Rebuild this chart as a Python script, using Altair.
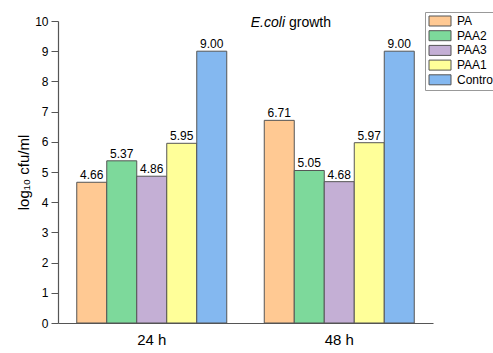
import altair as alt
import pandas as pd

# Sampling times and treatments
times = ["24 h", "48 h"]
treatments = ["PA", "PAA2", "PAA3", "PAA1", "Contro"]
colors = ["#FFC993", "#7DD99B", "#C4AFD5", "#FFFF99", "#84B8F0"]

# log10 cfu/ml per treatment at each time
values_24h = [4.66, 5.37, 4.86, 5.95, 9.00]
values_48h = [6.71, 5.05, 4.68, 5.97, 9.00]

rows = []
for t, vals in zip(times, [values_24h, values_48h]):
    for tr, v in zip(treatments, vals):
        rows.append({"time": t, "treatment": tr, "value": v})
df = pd.DataFrame(rows)

FONT = "Liberation Sans"
y_ticks = [i / 2 for i in range(21)]

x_axis = alt.Axis(
    title=None, labelAngle=0, labelFontSize=15, labelFont=FONT,
    labelColor="black", labelPadding=9, ticks=False,
    domainColor="#555555", domainWidth=1.2,
)
y_axis = alt.Axis(
    title="log₁₀ cfu/ml", titleFont=FONT, titleFontSize=15,
    titleFontWeight="normal", titleColor="black", titlePadding=3,
    values=y_ticks, format="d",
    labelExpr="datum.value % 1 === 0 ? datum.label : ''",
    labelOverlap=False,
    labelFont=FONT, labelFontSize=12, labelColor="black",
    tickSize=alt.ExprRef("datum.value % 1 === 0 ? 7 : 4"),
    tickColor="#555555", domainColor="#555555", domainWidth=1.2,
    grid=False, labelPadding=3,
)
x_scale = alt.Scale(paddingInner=0.2, paddingOuter=0.1)
y_scale = alt.Scale(domain=[0, 10], nice=False)

x_enc = alt.X("time:N", sort=times, scale=x_scale, axis=x_axis)
y_enc = alt.Y("value:Q", scale=y_scale, axis=y_axis)
xoff = alt.XOffset("treatment:N", sort=treatments)

bars = alt.Chart(df).mark_bar(stroke="#555555", strokeWidth=1).encode(
    x=x_enc,
    xOffset=xoff,
    y=y_enc,
    color=alt.Color(
        "treatment:N",
        sort=treatments,
        scale=alt.Scale(domain=treatments, range=colors),
        legend=alt.Legend(
            title=None, orient="none", legendX=367, legendY=-9,
            symbolType="M-1,-1L3.4,-1L3.4,1L-1,1Z", symbolSize=100,
            symbolStrokeColor="#555555", symbolStrokeWidth=1,
            symbolOpacity=1, labelOffset=17, labelFont=FONT,
            labelFontSize=12, labelColor="black", rowPadding=0.7,
            padding=3, strokeColor="#999999", fillColor="white",
            cornerRadius=0,
        ),
    ),
)

labels = alt.Chart(df).mark_text(
    dy=-7, fontSize=12, font=FONT, color="black"
).encode(
    x=x_enc,
    xOffset=xoff,
    y=y_enc,
    text=alt.Text("value:Q", format=".2f"),
)

title_italic = alt.Chart(pd.DataFrame({"t": ["E.coli"]})).mark_text(
    font=FONT, fontSize=14, fontStyle="italic", align="right", color="black"
).encode(text="t:N", x=alt.value(227), y=alt.value(2))

title_rest = alt.Chart(pd.DataFrame({"t": ["growth"]})).mark_text(
    font=FONT, fontSize=14, align="left", color="black", dx=4
).encode(text="t:N", x=alt.value(227), y=alt.value(2))

chart = (
    alt.layer(bars, labels, title_italic, title_rest)
    .properties(
        width=375, height=302,
        autosize=alt.AutoSizeParams(type="none"),
        padding={"left": 58, "top": 21, "right": 60, "bottom": 30},
    )
    .configure_view(stroke=None)
)

chart.save("out.html", embed_options={"renderer": "svg", "actions": False})
